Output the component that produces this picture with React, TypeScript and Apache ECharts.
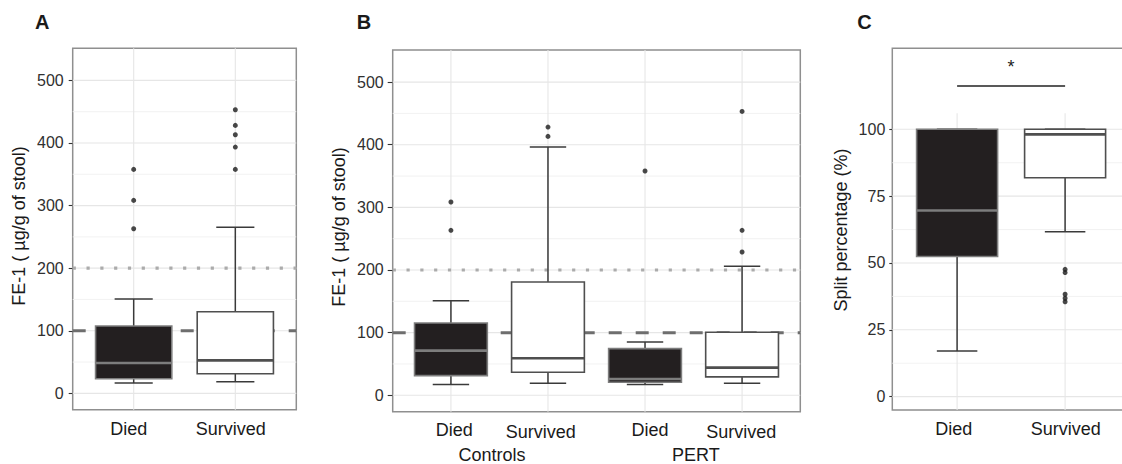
import React, { useEffect, useRef } from 'react';
import * as echarts from 'echarts';

const FONT = '"Liberation Sans", Arial, Helvetica, sans-serif';

// ---------- data ----------
// each stats row: [lower whisker, Q1, median, Q3, upper whisker]
const groupsA = ['Died', 'Survived'];
const statsA = [
  [16.5, 23.4, 48.5, 107.6, 150.7],
  [18.6, 31.4, 52.7, 130.5, 265.2],
];
const outliersA = [
  [357.8, 308.3, 263.0],
  [453.1, 428.1, 413.2, 393.5, 357.8],
];

const groupsB = ['Died', 'Survived', 'Died', 'Survived'];
const facetsB = ['Controls', 'PERT'];
const statsB = [
  [17.0, 31.4, 71.3, 115.4, 151.0],
  [19.1, 36.7, 59.0, 180.9, 396.3],
  [17.0, 20.7, 26.0, 74.5, 85.1],
  [19.1, 29.3, 44.1, 100.5, 205.9],
];
const outliersB = [
  [308.5, 263.3],
  [428.2, 413.3],
  [358.0],
  [453.2, 263.3, 228.7],
];

const groupsC = ['Died', 'Survived'];
const statsC = [
  [17.1, 52.4, 69.6, 100, 100],
  [61.7, 81.9, 98.1, 100, 100],
];
const outliersC = [[], [47.6, 46.4, 38.3, 36.8, 35.5]];

const ticksFE = [0, 100, 200, 300, 400, 500];
const minorFE = [50, 150, 250, 350, 450];
const ticksC = [0, 25, 50, 75, 100];
const minorC = [12.5, 37.5, 62.5, 87.5];
const refDashed = [100];
const refDotted = [200];
const signifC = [1, 2, 116.2, 124.7]; // x1, x2, bar y, star y
const signifLabel = '*';

const yTitleFE = 'FE-1 ( µg/g of stool)';
const yTitleC = 'Split percentage (%)';
const panelLetters = ['A', 'B', 'C'];

// ---------- helpers ----------
const boxData = (groups: string[], stats: number[][]) =>
  stats.map((s, i) => [i + 1, s[0], s[1], s[2], s[3], s[4], groups[i] === 'Died' ? 1 : 0]);

const outlierData = (outs: number[][]) => {
  const res: number[][] = [];
  outs.forEach((arr, i) => arr.forEach((v) => res.push([i + 1, v])));
  return res;
};

const renderBox = (params: any, api: any) => {
  const x = api.value(0);
  const lo = api.value(1), q1 = api.value(2), med = api.value(3), q3 = api.value(4), hi = api.value(5);
  const dark = api.value(6) === 1;
  const bw = api.size([0.75, 0])[0];
  const cw = bw / 2;
  const cx = api.coord([x, lo])[0];
  const yLo = api.coord([x, lo])[1];
  const yQ1 = api.coord([x, q1])[1];
  const yMed = api.coord([x, med])[1];
  const yQ3 = api.coord([x, q3])[1];
  const yHi = api.coord([x, hi])[1];
  const wStyle = { stroke: '#3a3a3a', lineWidth: 1.5, fill: null };
  const fill = dark ? '#231f20' : '#ffffff';
  const stroke = dark ? '#7d7d7d' : '#4f4f4f';
  return {
    type: 'group',
    children: [
      { type: 'line', shape: { x1: cx, y1: yQ3, x2: cx, y2: yHi }, style: wStyle },
      { type: 'line', shape: { x1: cx, y1: yQ1, x2: cx, y2: yLo }, style: wStyle },
      { type: 'line', shape: { x1: cx - cw / 2, y1: yHi, x2: cx + cw / 2, y2: yHi }, style: wStyle },
      { type: 'line', shape: { x1: cx - cw / 2, y1: yLo, x2: cx + cw / 2, y2: yLo }, style: wStyle },
      {
        type: 'rect',
        shape: { x: cx - bw / 2, y: yQ3, width: bw, height: yQ1 - yQ3 },
        style: { fill, stroke, lineWidth: 1.6 },
      },
      {
        type: 'line',
        shape: { x1: cx - bw / 2, y1: yMed, x2: cx + bw / 2, y2: yMed },
        style: { stroke, lineWidth: 2.6 },
      },
    ],
  };
};

const hLineSeries = (idx: number, values: number[], style: any, z: number) => ({
  type: 'custom',
  xAxisIndex: idx,
  yAxisIndex: idx,
  silent: true,
  z,
  encode: { x: 0, y: 1 },
  data: values.map((v) => [1, v]),
  renderItem: (params: any, api: any) => {
    const cs = params.coordSys;
    const y = api.coord([1, api.value(1)])[1];
    return { type: 'line', shape: { x1: cs.x, y1: y, x2: cs.x + cs.width, y2: y }, style };
  },
});

const vLineSeries = (idx: number, xs: number[], top: number, style: any, z: number) => ({
  type: 'custom',
  xAxisIndex: idx,
  yAxisIndex: idx,
  silent: true,
  z,
  encode: { x: 0, y: 1 },
  data: xs.map((x) => [x, top]),
  renderItem: (params: any, api: any) => {
    const cs = params.coordSys;
    const p = api.coord([api.value(0), api.value(1)]);
    return { type: 'line', shape: { x1: p[0], y1: cs.y + cs.height, x2: p[0], y2: p[1] }, style };
  },
});

const majorStyle = { stroke: '#e6e6e6', lineWidth: 1.1 };
const minorStyle = { stroke: '#f1f1f1', lineWidth: 0.9 };
const dashedStyle = { stroke: '#6e6e6e', lineWidth: 3, lineDash: [13, 14] };
const dottedStyle = { stroke: '#ababab', lineWidth: 3.2, lineDash: [3.2, 10.6] };

const yAxisCfg = (idx: number, min: number, max: number, ticks: number[], margin: number, tickLen: number) => ({
  type: 'value',
  gridIndex: idx,
  min,
  max,
  axisLine: { show: false },
  splitLine: { show: false },
  axisTick: { show: true, customValues: ticks, length: tickLen, lineStyle: { color: '#333', width: 1.1 } },
  axisLabel: {
    show: true,
    customValues: ticks,
    margin,
    fontSize: 16,
    color: '#303030',
    fontFamily: FONT,
  },
});

const xAxisCfg = (idx: number, n: number) => ({
  type: 'value',
  gridIndex: idx,
  min: 0.4,
  max: n + 0.6,
  axisLine: { show: false },
  axisTick: { show: false },
  axisLabel: { show: false },
  splitLine: { show: false },
});

const txt = (x: number, y: number, text: string, extra: any = {}) => ({
  type: 'text',
  x,
  y,
  silent: true,
  style: {
    text,
    fontSize: 18,
    fontFamily: FONT,
    fill: '#1a1a1a',
    textAlign: 'center',
    textVerticalAlign: 'middle',
    ...extra,
  },
});

export default function App() {
  const ref = useRef<HTMLDivElement>(null);
  useEffect(() => {
    if (!ref.current) return;
    const chart = echarts.init(ref.current, undefined, { renderer: 'svg' });

    const gridStyle = {
      show: true,
      borderColor: '#8f8f8f',
      borderWidth: 1.5,
      backgroundColor: 'transparent',
      containLabel: false,
      outerBoundsMode: 'none',
    };

    const series: any[] = [];
    // Panel A (0), B (1), C (2)
    const panels = [
      { idx: 0, groups: groupsA, stats: statsA, outs: outliersA, major: ticksFE, minor: minorFE, vTop: 551.25, refs: true },
      { idx: 1, groups: groupsB, stats: statsB, outs: outliersB, major: ticksFE, minor: minorFE, vTop: 551.25, refs: true },
      { idx: 2, groups: groupsC, stats: statsC, outs: outliersC, major: ticksC, minor: minorC, vTop: 106, refs: false },
    ];
    panels.forEach((p) => {
      series.push(hLineSeries(p.idx, p.minor, minorStyle, 1));
      series.push(hLineSeries(p.idx, p.major, majorStyle, 1));
      series.push(vLineSeries(p.idx, p.groups.map((_, i) => i + 1), p.vTop, majorStyle, 1));
      if (p.refs) {
        series.push(hLineSeries(p.idx, refDotted, dottedStyle, 2));
        series.push(hLineSeries(p.idx, refDashed, dashedStyle, 2));
      }
      series.push({
        type: 'custom',
        xAxisIndex: p.idx,
        yAxisIndex: p.idx,
        silent: true,
        z: 3,
        encode: { x: 0, y: 2 },
        data: boxData(p.groups, p.stats),
        renderItem: renderBox,
      });
      series.push({
        type: 'scatter',
        xAxisIndex: p.idx,
        yAxisIndex: p.idx,
        silent: true,
        z: 4,
        symbol: 'circle',
        symbolSize: 5,
        itemStyle: { color: '#1a1a1a' },
        data: outlierData(p.outs),
      });
    });

    series.push({
      type: 'custom',
      xAxisIndex: 2,
      yAxisIndex: 2,
      silent: true,
      z: 4,
      encode: { x: 0, y: 2 },
      data: [signifC],
      renderItem: (params: any, api: any) => {
        const a = api.coord([api.value(0), api.value(2)]);
        const b = api.coord([api.value(1), api.value(2)]);
        const s = api.coord([(api.value(0) + api.value(1)) / 2, api.value(3)]);
        return {
          type: 'group',
          children: [
            { type: 'line', shape: { x1: a[0], y1: a[1], x2: b[0], y2: b[1] }, style: { stroke: '#222', lineWidth: 1.5 } },
            {
              type: 'text',
              x: s[0],
              y: s[1] + 4,
              style: {
                text: signifLabel,
                fontSize: 18,
                fontFamily: FONT,
                fill: '#222',
                textAlign: 'center',
                textVerticalAlign: 'middle',
              },
            },
          ],
        };
      },
    });

    const graphics: any[] = [
      txt(35, 22, panelLetters[0], { fontWeight: 'bold', fontSize: 20, textAlign: 'left' }),
      txt(356.7, 22, panelLetters[1], { fontWeight: 'bold', fontSize: 20, textAlign: 'left' }),
      txt(857.3, 22, panelLetters[2], { fontWeight: 'bold', fontSize: 20, textAlign: 'left' }),
      { ...txt(19, 226, yTitleFE), rotation: Math.PI / 2 },
      { ...txt(339, 227, yTitleFE), rotation: Math.PI / 2 },
      { ...txt(840.5, 230, yTitleC), rotation: Math.PI / 2 },
      // x labels
      txt(128.7, 429, groupsA[0]),
      txt(230.8, 429, groupsA[1]),
      txt(454.2, 430, groupsB[0]),
      txt(540.8, 432.3, groupsB[1]),
      txt(650, 430, groupsB[2]),
      txt(741.2, 432.3, groupsB[3]),
      txt(492, 455, facetsB[0]),
      txt(695.8, 455, facetsB[1]),
      txt(953.7, 429, groupsC[0]),
      txt(1065.8, 429, groupsC[1]),
    ];

    chart.setOption({
      animation: false,
      backgroundColor: '#ffffff',
      grid: [
        { left: 72.7, top: 48.3, width: 223.6, height: 361.5, ...gridStyle },
        { left: 392.7, top: 50, width: 407.6, height: 361.7, ...gridStyle },
        { left: 892.3, top: 48.3, width: 237.6, height: 361.7, ...gridStyle },
      ],
      xAxis: [xAxisCfg(0, groupsA.length), xAxisCfg(1, groupsB.length), xAxisCfg(2, groupsC.length)],
      yAxis: [
        yAxisCfg(0, -26.25, 551.25, ticksFE, 9, 4),
        yAxisCfg(1, -26.25, 551.25, ticksFE, 9, 5),
        yAxisCfg(2, -5, 130.3, ticksC, 7, 3),
      ],
      series,
      graphic: graphics,
    });

    return () => chart.dispose();
  }, []);

  return (
    <div
      ref={ref}
      style={{ position: 'absolute', left: 0, top: 0, width: 1122, height: 464 }}
    />
  );
}
